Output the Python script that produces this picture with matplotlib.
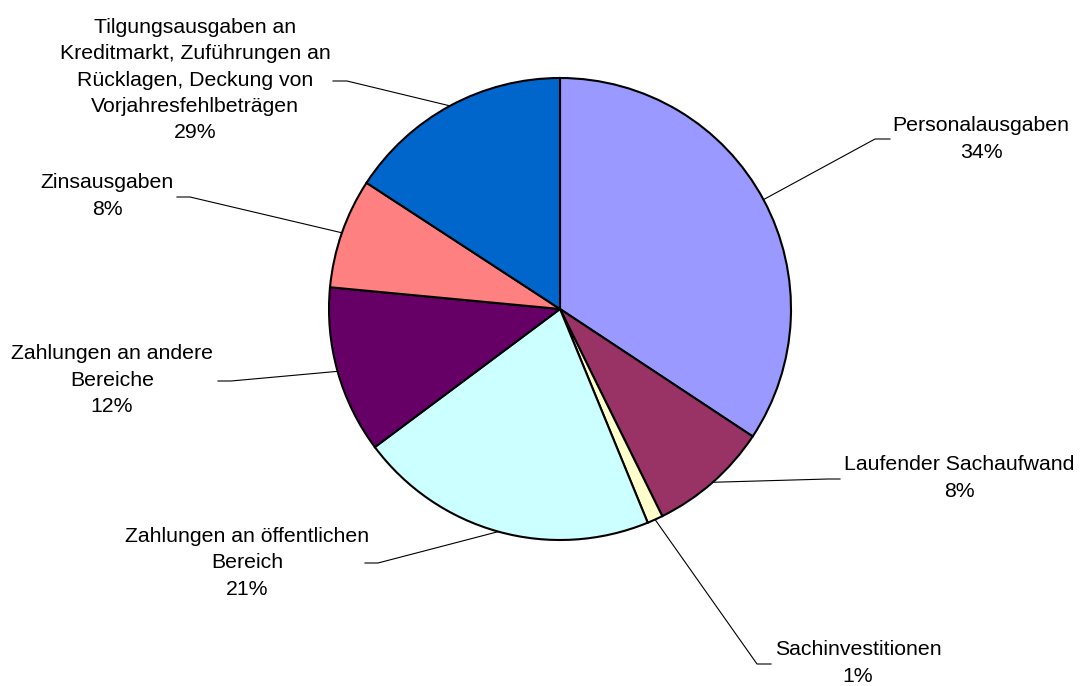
import numpy as np
from matplotlib import pyplot as plt

plt.rcParams['font.family'] = ['Liberation Sans', 'DejaVu Sans']

# slice shares as drawn (clockwise from 12 o'clock)
labels = ['Personalausgaben', 'Laufender Sachaufwand', 'Sachinvestitionen',
          'Zahlungen an öffentlichen\nBereich', 'Zahlungen an andere\nBereiche',
          'Zinsausgaben',
          'Tilgungsausgaben an\nKreditmarkt, Zuführungen an\nRücklagen, Deckung von\nVorjahresfehlbeträgen']
shares = [34.3, 8.4, 1.1, 21.0, 11.7, 7.7, 15.8]
pct_labels = ['34%', '8%', '1%', '21%', '12%', '8%', '29%']
colors = ['#9999FF', '#993366', '#FFFFCC', '#CCFFFF', '#660066', '#FF8080', '#0066CC']

W, H = 1081, 686
# label centres and leader elbows in pixels (from top-left)
text_pos = [(981, 139), (959, 478), (858, 663), (247, 563), (112, 380), (107, 196), (195, 80)]
elbows = [((875, 139), (890, 139)), ((828, 479), (840, 479)), ((757, 664), (771, 664)),
          ((378, 563), (365, 563)), ((231, 381), (218, 381)), ((190, 197), (177, 197)),
          ((347, 81), (333, 81))]

fig = plt.figure(figsize=(W / 100, H / 100), dpi=100)
ax = fig.add_axes([0, 0, 1, 1])

cx, cy, r = 560, H - 309, 231
wedges, _ = ax.pie(shares, colors=colors, startangle=90, counterclock=False,
                   center=(cx, cy), radius=r,
                   wedgeprops=dict(edgecolor='black', linewidth=1.5))
ax.set_xlim(0, W)
ax.set_ylim(0, H)
ax.set_aspect('equal')
ax.axis('off')

for w, lab, pct, (tx, ty), (e1, e2) in zip(wedges, labels, pct_labels, text_pos, elbows):
    mid = np.deg2rad((w.theta1 + w.theta2) / 2)
    sx, sy = cx + r * np.cos(mid), cy + r * np.sin(mid)
    ax.plot([sx, e1[0], e2[0]], [sy, H - e1[1], H - e2[1]], color='black', lw=0.8)
    ax.text(tx, H - ty, lab + '\n' + pct, ha='center', va='center',
            fontsize=15.3, linespacing=1.47)

fig.savefig('out.png', dpi=100)
